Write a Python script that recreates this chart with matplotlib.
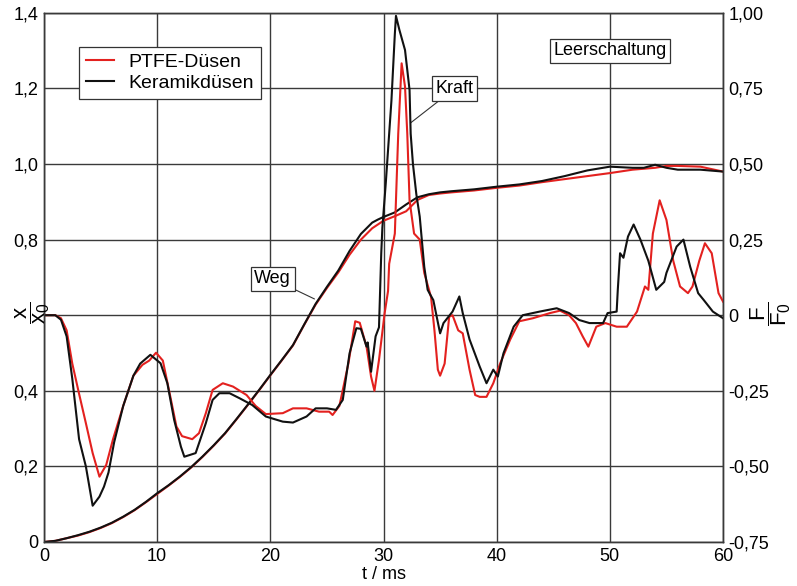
import matplotlib
matplotlib.use("Agg")
import matplotlib.pyplot as plt

plt.rcParams.update({
    "font.family": ["Liberation Sans", "DejaVu Sans"],
    "font.size": 13,
    "mathtext.fontset": "custom",
    "mathtext.rm": "Liberation Sans",
    "mathtext.it": "Liberation Sans",
})

# ---------------------------------------------------------------------------
# Data
# ---------------------------------------------------------------------------
# Weg (left axis, x/x0)
weg_t_black = [0, 1, 2, 3, 4, 5, 6, 7, 8, 9, 10, 11, 12, 13, 14, 15, 16, 17, 18, 19,
               20, 21, 22, 23, 24, 25, 26, 27, 28, 29, 29.5, 30, 31, 32, 33, 34, 35,
               36, 38, 40, 42, 44, 46, 48, 50, 52, 53, 54, 55, 56, 58, 60]
weg_black = [0, 0.003, 0.01, 0.018, 0.027, 0.038, 0.051, 0.067, 0.085, 0.106, 0.129,
             0.15, 0.173, 0.198, 0.226, 0.256, 0.288, 0.325, 0.363, 0.402, 0.442,
             0.481, 0.521, 0.576, 0.63, 0.675, 0.718, 0.77, 0.815, 0.845, 0.853,
             0.86, 0.872, 0.893, 0.912, 0.92, 0.925, 0.928, 0.933, 0.94, 0.946,
             0.955, 0.968, 0.983, 0.993, 0.99, 0.99, 0.998, 0.99, 0.985, 0.985, 0.98]

weg_t_red = [0, 1, 2, 3, 4, 5, 6, 7, 8, 9, 10, 11, 12, 13, 14, 15, 16, 17, 18, 19,
             20, 21, 22, 23, 24, 25, 26, 27, 28, 29, 30, 31, 32, 33, 34, 35, 36, 38,
             40, 42, 44, 46, 48, 50, 52, 54, 55, 56, 58, 60]
weg_red = [0, 0.003, 0.01, 0.017, 0.026, 0.037, 0.05, 0.066, 0.084, 0.105, 0.127,
           0.149, 0.172, 0.197, 0.225, 0.255, 0.287, 0.324, 0.362, 0.401, 0.441,
           0.48, 0.52, 0.575, 0.628, 0.672, 0.713, 0.76, 0.80, 0.83, 0.85, 0.862,
           0.875, 0.905, 0.918, 0.922, 0.925, 0.93, 0.937, 0.943, 0.952, 0.96,
           0.968, 0.976, 0.985, 0.99, 0.995, 0.995, 0.993, 0.98]

# Kraft (right axis, F/F0)
kraft_t_black = [0, 1, 1.5, 2, 2.5, 3.1, 3.7, 4.3, 4.9, 5.3, 5.7, 6.2, 7.0, 7.9, 8.5,
                 9.4, 10.3, 10.9, 11.5, 12.1, 12.4, 13.4, 14.3, 14.9, 15.5, 16.4,
                 17.3, 18.4, 19.6, 21.1, 22.0, 23.2, 24.0, 25.0, 25.8, 26.4, 27.0,
                 27.6, 28.0, 28.5, 28.6, 28.9, 29.3, 29.6, 29.8, 29.9, 30.2, 30.7,
                 31.0, 31.1, 31.4, 31.9, 32.3, 32.4, 32.6, 32.9, 33.2, 33.6, 33.9,
                 34.1, 34.4, 35.0, 35.3, 36.1, 36.7, 37.0, 37.6, 38.5, 39.1, 39.7,
                 40.1, 40.6, 41.5, 42.3, 43.8, 45.3, 46.4, 47.3, 48.2, 49.4, 49.8,
                 50.6, 50.7, 50.9, 51.2, 51.6, 52.1, 52.7, 53.4, 54.1, 54.8, 55.0,
                 55.9, 56.5, 57.1, 57.8, 58.3, 59.1, 60]
kraft_black = [0, 0, -0.015, -0.07, -0.21, -0.41, -0.50, -0.63, -0.60, -0.567, -0.52,
               -0.42, -0.30, -0.20, -0.16, -0.131, -0.159, -0.225, -0.346, -0.435,
               -0.468, -0.456, -0.357, -0.28, -0.258, -0.258, -0.275, -0.297, -0.335,
               -0.352, -0.355, -0.335, -0.308, -0.308, -0.313, -0.28, -0.126, -0.043,
               -0.045, -0.104, -0.09, -0.187, -0.07, -0.04, 0.205, 0.29, 0.437, 0.71,
               0.93, 0.99, 0.944, 0.877, 0.745, 0.60, 0.50, 0.40, 0.326, 0.16, 0.084,
               0.07, 0.05, -0.06, -0.026, 0.012, 0.062, 0.007, -0.08, -0.17, -0.225,
               -0.18, -0.203, -0.126, -0.038, 0, 0.012, 0.023, 0.007, -0.016, -0.026,
               -0.026, 0.007, 0.012, 0.084, 0.205, 0.19, 0.26, 0.30, 0.25, 0.18,
               0.084, 0.11, 0.14, 0.227, 0.25, 0.16, 0.073, 0.05, 0.012, -0.01]

kraft_t_red = [0, 1, 1.5, 2, 2.5, 3.1, 3.7, 4.3, 4.9, 5.5, 6.1, 7.0, 7.9, 8.7, 9.3,
               9.9, 10.5, 11.1, 11.7, 12.2, 13.1, 13.7, 14.3, 14.9, 15.8, 16.7, 17.9,
               18.7, 19.6, 21.1, 22.0, 23.2, 24.3, 25.2, 25.5, 26.1, 26.9, 27.5, 27.9,
               28.5, 28.9, 29.2, 29.6, 30.1, 30.4, 30.5, 31.0, 31.3, 31.6, 31.9, 32.1,
               32.3, 32.7, 33.2, 33.6, 34.1, 34.2, 34.5, 34.8, 35.0, 35.4, 35.8, 36.1,
               36.6, 37.0, 37.6, 38.1, 38.5, 39.1, 39.7, 40.3, 41.2, 42.0, 43.2, 44.7,
               45.6, 46.4, 47.0, 47.6, 48.1, 48.8, 49.6, 50.6, 51.5, 52.4, 53.1, 53.4,
               53.8, 54.4, 55.0, 55.6, 56.2, 56.9, 57.3, 57.9, 58.4, 59.0, 59.6, 60]
kraft_red = [0, 0, -0.01, -0.05, -0.16, -0.26, -0.357, -0.456, -0.534, -0.495, -0.41,
             -0.30, -0.20, -0.164, -0.15, -0.124, -0.15, -0.258, -0.368, -0.40, -0.41,
             -0.39, -0.324, -0.247, -0.225, -0.236, -0.264, -0.30, -0.327, -0.324,
             -0.308, -0.308, -0.319, -0.319, -0.33, -0.30, -0.159, -0.02, -0.025,
             -0.104, -0.203, -0.25, -0.148, 0.007, 0.08, 0.17, 0.27, 0.60, 0.833,
             0.756, 0.60, 0.38, 0.27, 0.25, 0.14, 0.073, 0.06, -0.05, -0.18, -0.20,
             -0.16, -0.005, 0.0, -0.05, -0.06, -0.18, -0.264, -0.27, -0.27, -0.225,
             -0.16, -0.08, -0.02, -0.01, 0.007, 0.015, 0.0, -0.026, -0.07, -0.104,
             -0.038, -0.026, -0.038, -0.038, 0.012, 0.095, 0.084, 0.27, 0.38, 0.315,
             0.18, 0.095, 0.073, 0.095, 0.18, 0.238, 0.205, 0.073, 0.045]

x_ticks = [0, 10, 20, 30, 40, 50, 60]
left_ticks = [0, 0.2, 0.4, 0.6, 0.8, 1.0, 1.2, 1.4]
left_labels = ["0", "0,2", "0,4", "", "0,8", "1,0", "1,2", "1,4"]
right_ticks = [-0.75, -0.5, -0.25, 0, 0.25, 0.5, 0.75, 1.0]
right_labels = ["-0,75", "-0,50", "-0,25", "0", "0,25", "0,50", "0,75", "1,00"]

RED = "#e3211f"
BLACK = "#111111"
GRID = "#3a3a3a"

fig = plt.figure(figsize=(7.97, 5.86), dpi=100)
ax = fig.add_axes([0.0552, 0.0751, 0.852, 0.903])
ax2 = ax.twinx()

ax.plot(weg_t_red, weg_red, color=RED, lw=1.5)
ax.plot(weg_t_black, weg_black, color=BLACK, lw=1.5)
ax2.plot(kraft_t_red, kraft_red, color=RED, lw=1.5, label="PTFE-Düsen")
ax2.plot(kraft_t_black, kraft_black, color=BLACK, lw=1.5, label="Keramikdüsen")

ax.set_xlim(0, 60)
ax.set_ylim(0, 1.4)
ax2.set_ylim(-0.75, 1.0)
ax.set_xticks(x_ticks, [str(v) for v in x_ticks])
ax.set_yticks(left_ticks, left_labels)
ax2.set_yticks(right_ticks, right_labels)
ax.grid(True, color=GRID, lw=1.0)
ax.set_axisbelow(True)
for a in (ax, ax2):
    a.tick_params(length=0, pad=4)
    for s in a.spines.values():
        s.set_color(GRID)
        s.set_linewidth(1.0)

ax.set_xlabel("t / ms", labelpad=1)
# fraction labels sit next to the 0 level of the right axis
fig.text(33 / 797, 1 - 313 / 586, r"$\dfrac{x}{x_0}$", rotation=90,
         ha="center", va="center", fontsize=16)
fig.text(771 / 797, 1 - 314 / 586, r"$\dfrac{F}{F_0}$", rotation=90,
         ha="center", va="center", fontsize=16)

box = dict(boxstyle="square,pad=0.2", fc="white", ec="#333333", lw=0.9)
ax.annotate("Kraft", xy=(32.4, 1.109), xytext=(36.3, 1.20), ha="center", va="center",
            bbox=box, arrowprops=dict(arrowstyle="-", color="#333333", lw=0.8,
                                      shrinkA=0, shrinkB=0))
ax.annotate("Weg", xy=(23.9, 0.643), xytext=(20.2, 0.696), ha="center", va="center",
            bbox=box, arrowprops=dict(arrowstyle="-", color="#333333", lw=0.8,
                                      shrinkA=0, shrinkB=0))
ax.text(50.0, 1.30, "Leerschaltung", ha="center", va="center", bbox=box)

leg = ax2.legend(loc="upper left", bbox_to_anchor=(35 / 679, 1 - 34 / 529),
                 borderaxespad=0, fancybox=False, framealpha=1, edgecolor="#333333",
                 borderpad=0.35, handlelength=1.45, handletextpad=0.75,
                 labelspacing=0.15, fontsize=14)
leg.get_frame().set_linewidth(0.9)

fig.savefig("out.png", dpi=100)
